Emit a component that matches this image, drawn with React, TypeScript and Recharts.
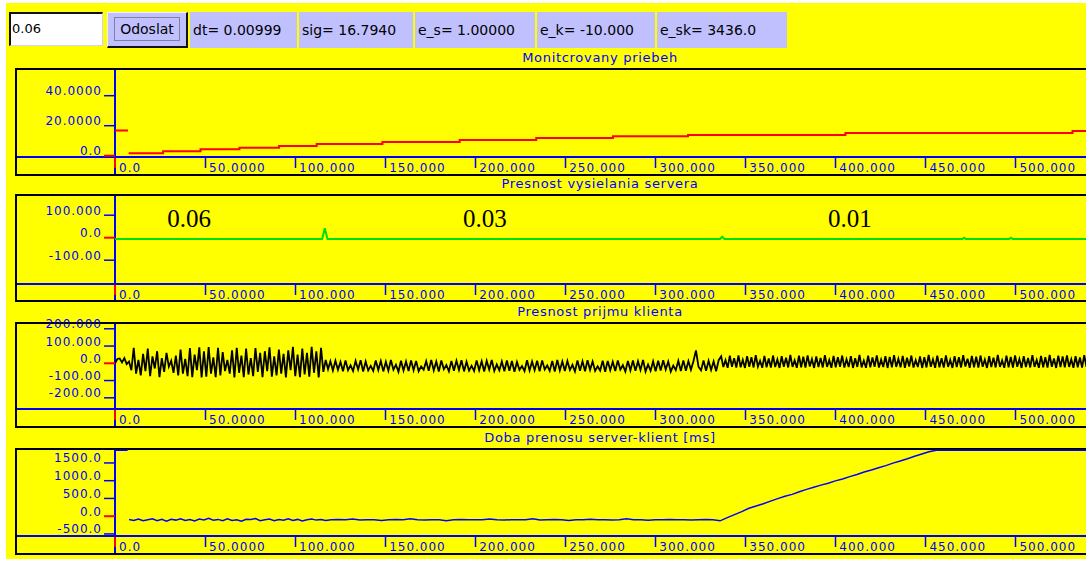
import React from 'react';
import { LineChart, Line, XAxis, YAxis, ReferenceDot } from 'recharts';

// ---------- header ----------
const inputValue = '0.06';
const buttonLabel = 'Odoslat';
const statusLabels = ['dt= 0.00999', 'sig= 16.7940', 'e_s= 1.00000', 'e_k= -10.000', 'e_sk= 3436.0'];

// ---------- panel titles ----------
const panelTitles = [
  'Monitcrovany priebeh',
  'Presnost vysielania servera',
  'Presnost prijmu klienta',
  'Doba prenosu server-klient [ms]',
];

// ---------- shared time axis ----------
const timeTicks = [0, 50, 100, 150, 200, 250, 300, 350, 400, 450, 500];
const timeTickLabels = ['0.0', '50.0000', '100.000', '150.000', '200.000', '250.000', '300.000', '350.000', '400.000', '450.000', '500.000'];
const T_MAX = 541.4;

// ---------- panel 1: monitored signal ----------
const monitorTicks = [0, 20, 40];
const monitorTickLabels = ['0.0', '20.0000', '40.0000'];
const monitorTimes = [0, 7.2, 7.4, 7.6, 26.7, 47.5, 69.1, 91.1, 112.0, 148.5, 191.4, 233.9, 276.5, 318.2, 405.6, 531.7, 541.4];
const monitorValues = [16.8, 16.8, null, 1.6, 2.9, 4.3, 5.3, 6.5, 7.8, 9.1, 10.5, 11.8, 12.9, 13.8, 15.1, 16.5, 16.5];

// ---------- panel 2: server send accuracy ----------
const serverTicks = [-100, 0, 100];
const serverTickLabels = ['-100.00', '0.0', '100.000'];
const serverTimes = [0, 115.0, 116.5, 118.0, 336.0, 337.2, 338.4, 470.5, 471.5, 472.5, 496.5, 497.5, 498.5, 541.4];
const serverValues = [-6, -6, 42, -6, -6, 4, -6, -6, 0, -6, -6, 0, -6, -6];
const rateTimes = [41.1, 205.4, 408.1];
const rateLabels = ['0.06', '0.03', '0.01'];
const rateLabelLevel = 48;

// ---------- panel 3: client receive accuracy ----------
const clientTicks = [-200, -100, 0, 100, 200];
const clientTickLabels = ['-200.00', '-100.00', '0.0', '100.000', '200.000'];
// rate 0.06 phase (sampled from t = 0, every 1.3)
const clientPhaseA = [
  0, 25, 28, 5, 30, -5, 10, -40, 90, -60,
  20, -70, 55, -45, 85, -75, 40, -30, 70, -80,
  30, -50, 60, -20, 15, -55, 45, -70, 80, -60,
  25, -75, 88, -80, 50, -40, 92, -82, 70, -78,
  94, -60, 35, -80, 90, -70, 65, -45, 20, -60,
  75, -82, 90, -55, 45, -80, 85, -65, 30, -75,
  88, -50, 60, -80, 70, -45, 92, -78, 40, -70,
  80, -60, 55, -82, 75, -40, 95, -75, 50, -80,
  85, -65, 60, -78, 95, -55, 70, -82, 90, -50,
  20, -35,
];
// rate 0.03 phase (from t = 119.6, every 1.4)
const clientPhaseB = [
  12, -42, 15, -38, 8, -46, 17, -40, -12, -45,
  14, -36, 18, -48, 10, -41, -15, -44, 16, -39,
  13, -47, 9, -43, 19, -37, -8, -49, 15, -42,
  11, -45, 17, -40, 14, -46, -18, -38, 12, -44,
  20, -41, 10, -48, 16, -35, -10, -46, 13, -43,
  15, -39, 18, -47, 9, -42, -14, -45, 17, -40,
  12, -48, 14, -37, 19, -44, -6, -41, 11, -46,
  16, -43, 13, -49, 8, -38, -16, -45, 18, -42,
  10, -40, 15, -47, 17, -36, -12, -44, 14, -48,
  19, -41, 11, -45, 13, -39, -9, -47, 16, -43,
  12, -46, 18, -38, 10, -44, -17, -42, 15, -49,
  14, -40, 9, -45, 17, -37, -11, -48, 13, -41,
  16, -44, 12, -39, 20, -47, -7, -43, 11, -46,
  15, -42, 18, -36, 10, -48, -13, -40, 14, -45,
  17, -43, 13, -38, 12, 75, -20, -41, 16, -44,
  14, -39, 11, -46, 18,
];
// rate 0.01 phase (from t = 336.6, every 1.2)
const clientPhaseC = [
  40, -22, 18, -26, 44, -20, 30, -25, 46, -23,
  20, -27, 42, -21, 35, -24, 47, -19, 15, -26,
  43, -23, 28, -25, 45, -22, 22, -27, 41, -20,
  33, -24, 48, -21, 17, -26, 44, -23, 38, -25,
  46, -19, 25, -27, 40, -22, 31, -24, 47, -21,
  19, -26, 43, -23, 36, -20, 45, -25, 24, -22,
  42, -27, 29, -21, 48, -24, 16, -26, 44, -23,
  34, -20, 46, -25, 21, -22, 41, -27, 37, -24,
  47, -21, 26, -23, 43, -26, 32, -19, 45, -25,
  18, -22, 40, -27, 35, -24, 48, -20, 23, -26,
  44, -23, 30, -25, 46, -21, 20, -27, 42, -22,
  36, -24, 47, -19, 27, -26, 43, -23, 39, -25,
  45, -20, 22, -27, 41, -22, 33, -24, 48, -21,
  17, -26, 44, -23, 37, -25, 46, -20, 25, -27,
  42, -22, 31, -24, 47, -21, 19, -26, 43, -23,
  35, -25, 48, -20, 28, -27, 44, -22, 40, -24,
  46, -21, 24, -26, 41, -23, 34, -25, 47, -20,
  21,
];

// ---------- panel 4: server-client transfer time [ms] ----------
const transferTicks = [-500, 0, 500, 1000, 1500];
const transferTickLabels = ['-500.0', '0.0', '500.0', '1000.0', '1500.0'];
const transferHeadTimes = [0, 7.0, 7.4];
const transferHeadValues = [1860, 1860, null];
// from t = 7.8, every 2.6
const transferNoisy = [
  -95, -120, -80, -130, -100, -75, -125, -90, -140, -85,
  -110, -70, -120, -95, -135, -80, -105, -60, -115, -90,
  -130, -75, -120, -100, -140, -85, -95, -65, -125, -100,
  -80, -130, -95, -115, -70, -120, -90, -135, -100, -80,
  -110, -95, -120,
];
// from t = 120, every 4
const transferSteady = [
  -100, -95, -100, -80, -105, -100, -100, -120, -100, -95,
  -100, -75, -100, -105, -100, -100, -125, -100, -90, -100,
  -100, -100, -80, -100, -110, -100, -100, -100, -70, -105,
  -100, -95, -100, -120, -100, -100, -85, -100, -100, -105,
  -100, -75, -100, -100, -115, -100, -100, -90, -100, -100,
  -110, -100, -95, -100,
];
// from t = 336, every 4
const transferRise = [
  -130, -40, 45, 130, 225, 285, 350, 425, 495, 560,
  615, 690, 755, 815, 875, 930, 995, 1050, 1115, 1175,
  1245, 1300, 1365, 1425, 1495, 1555, 1620, 1690, 1750, 1815,
  1860,
];
const transferTopTimes = [460, 541.4];
const transferTopValues = [1860, 1860];

// ---------- colours & fonts ----------
const YELLOW = '#ffff00';
const LAVENDER = '#c0c0ff';
const BLUE = '#0000ff';
const RED = '#ff0000';
const UI_FONT = '"DejaVu Sans", Verdana, sans-serif';
const CHART_W = 1074;

type Pt = { t: number; v: number | null };

const zip = (times: number[], values: (number | null)[]): Pt[] => times.map((t, i) => ({ t, v: values[i] }));
const sampled = (start: number, step: number, values: number[]): Pt[] =>
  values.map((v, i) => ({ t: Math.round((start + i * step) * 100) / 100, v }));

const monitorData = zip(monitorTimes, monitorValues);
const serverData = zip(serverTimes, serverValues);
const clientData = [
  ...sampled(0, 1.3, clientPhaseA),
  ...sampled(119.6, 1.4, clientPhaseB),
  ...sampled(336.6, 1.2, clientPhaseC),
];
const transferData = [
  ...zip(transferHeadTimes, transferHeadValues),
  ...sampled(7.8, 2.6, transferNoisy),
  ...sampled(120, 4, transferSteady),
  ...sampled(336, 4, transferRise),
  ...zip(transferTopTimes, transferTopValues),
];

const TimeTick = (props: any) => {
  const { x, y, payload } = props;
  const i = timeTicks.indexOf(payload.value);
  const zero = payload.value === 0;
  const lx = zero ? x : Math.round(x) + 0.5;
  return (
    <g>
      <line x1={lx} x2={lx} y1={y + 1} y2={y + 11} stroke={zero ? RED : BLUE} strokeWidth={zero ? 2 : 1.5} />
      <text x={x + 4} y={y + 15} fill={BLUE} fontSize={12} fontFamily={UI_FONT} letterSpacing={1}>
        {timeTickLabels[i]}
      </text>
    </g>
  );
};

const valueTick = (ticks: number[], labels: string[]) => (props: any) => {
  const { x, y, payload } = props;
  const zero = payload.value === 0;
  return (
    <g>
      <line x1={x - 11} x2={x} y1={y} y2={y} stroke={zero ? RED : BLUE} strokeWidth={zero ? 2 : 1.5} />
      <text x={x - 13} y={y - 0.5} textAnchor="end" fill={BLUE} fontSize={12} fontFamily={UI_FONT} letterSpacing={1}>
        {labels[ticks.indexOf(payload.value)]}
      </text>
    </g>
  );
};

type PanelProps = {
  top: number;
  axisY: number;
  bottom: number;
  domain: [number, number];
  ticks: number[];
  tickLabels: string[];
  data: Pt[];
  color: string;
  strokeWidth: number;
  lineType: 'linear' | 'stepAfter';
  children?: React.ReactNode;
};

function Panel({ top, axisY, bottom, domain, ticks, tickLabels, data, color, strokeWidth, lineType, children }: PanelProps) {
  const chartTop = top + 1;
  const xAxisH = bottom - axisY;
  const height = axisY - chartTop + xAxisH;
  return (
    <>
      <div style={{ position: 'absolute', left: 15, top, width: 1090, height: bottom - top, border: '2px solid #000', boxSizing: 'border-box' }} />
      <div style={{ position: 'absolute', left: 114, top: top + 2, width: 2, height: bottom - top - 4, background: BLUE }} />
      <div style={{ position: 'absolute', left: 17, top: axisY - 1, width: 1090, height: 2, background: BLUE }} />
      <div style={{ position: 'absolute', left: 16, top: chartTop }}>
        <LineChart width={CHART_W} height={height} data={data} margin={{ top: 0, right: 0, bottom: 0, left: 0 }}>
          <XAxis
            type="number"
            dataKey="t"
            domain={[0, T_MAX]}
            ticks={timeTicks}
            interval={0}
            height={xAxisH}
            axisLine={false}
            tickLine={false}
            tickSize={0}
            tickMargin={0}
            allowDataOverflow
            tick={TimeTick}
          />
          <YAxis
            type="number"
            domain={domain}
            ticks={ticks}
            interval={0}
            width={99}
            axisLine={false}
            tickLine={false}
            tickSize={0}
            tickMargin={0}
            allowDataOverflow
            tick={valueTick(ticks, tickLabels)}
          />
          <Line
            type={lineType}
            dataKey="v"
            stroke={color}
            strokeWidth={strokeWidth}
            dot={false}
            activeDot={false}
            connectNulls={false}
            isAnimationActive={false}
          />
          {children}
        </LineChart>
      </div>
    </>
  );
}

const statusLefts = [190, 299, 415, 537, 657];
const statusWidths = [107, 114, 120, 118, 130];
const titleBaselines = [62, 188, 316, 442];

export default function App() {
  return (
    <div style={{ position: 'fixed', left: 0, top: 0, width: 1086, height: 561, overflow: 'hidden', background: '#fff' }}>
      <style>{'.recharts-surface{overflow:visible !important}'}</style>
      <div style={{ position: 'absolute', left: 6, top: 3, width: 1080, height: 556, background: YELLOW }} />

      {/* input field */}
      <div
        style={{
          position: 'absolute', left: 9, top: 12, width: 94, height: 34, boxSizing: 'border-box',
          background: '#fff', borderTop: '2px solid #111', borderLeft: '2px solid #111',
          borderRight: '1px solid #d0d0ff', borderBottom: '1px solid #d0d0ff',
          display: 'flex', alignItems: 'center', paddingLeft: 1, paddingBottom: 2,
          font: `13px ${UI_FONT}`, color: '#000',
        }}
      >
        {inputValue}
      </div>

      {/* send button */}
      <div
        style={{
          position: 'absolute', left: 107, top: 12, width: 81, height: 36, boxSizing: 'border-box',
          background: LAVENDER, borderTop: '1px solid #eeeeff', borderLeft: '1px solid #eeeeff',
          borderRight: '2px solid #111', borderBottom: '2px solid #111',
        }}
      >
        <div
          style={{
            position: 'absolute', left: 6, top: 4, width: 66, height: 24, boxSizing: 'border-box',
            border: '1px solid #8080a0', display: 'flex', alignItems: 'center', justifyContent: 'center',
            font: `14px ${UI_FONT}`, color: '#000',
          }}
        >
          {buttonLabel}
        </div>
      </div>

      {/* status fields */}
      {statusLabels.map((s, i) => (
        <div
          key={s}
          style={{
            position: 'absolute', left: statusLefts[i], top: 12, width: statusWidths[i], height: 36,
            background: LAVENDER, display: 'flex', alignItems: 'center', paddingLeft: 3, boxSizing: 'border-box',
            font: `14px ${UI_FONT}`, color: '#000', whiteSpace: 'nowrap',
          }}
        >
          {s}
        </div>
      ))}

      {/* panel titles */}
      <svg width={1086} height={561} style={{ position: 'absolute', left: 0, top: 0, pointerEvents: 'none' }}>
        {panelTitles.map((t, i) => (
          <text key={t} x={600} y={titleBaselines[i]} textAnchor="middle" fill={BLUE} fontSize={13} fontFamily={UI_FONT} letterSpacing={0.7}>
            {t}
          </text>
        ))}
      </svg>

      <Panel top={68} axisY={157} bottom={176} domain={[-0.87, 57.8]} ticks={monitorTicks} tickLabels={monitorTickLabels}
        data={monitorData} color={RED} strokeWidth={2} lineType="stepAfter" />

      <Panel top={194} axisY={284} bottom={302} domain={[-205.8, 189.8]} ticks={serverTicks} tickLabels={serverTickLabels}
        data={serverData} color="#00e000" strokeWidth={2} lineType="linear">
        {rateTimes.map((t, i) => (
          <ReferenceDot
            key={rateLabels[i]}
            x={t}
            y={rateLabelLevel}
            r={0}
            shape={(p: any) => (
              <text x={p.cx} y={p.cy} textAnchor="middle" fill="#000" fontSize={25} fontFamily='"Liberation Serif", "Times New Roman", serif'>
                {rateLabels[i]}
              </text>
            )}
          />
        ))}
      </Panel>

      <Panel top={322} axisY={409} bottom={428} domain={[-264.9, 233.6]} ticks={clientTicks} tickLabels={clientTickLabels}
        data={clientData} color="#000" strokeWidth={1.8} lineType="linear" />

      <Panel top={448} axisY={536} bottom={555} domain={[-557.7, 1893]} ticks={transferTicks} tickLabels={transferTickLabels}
        data={transferData} color={BLUE} strokeWidth={1.5} lineType="linear" />
    </div>
  );
}
